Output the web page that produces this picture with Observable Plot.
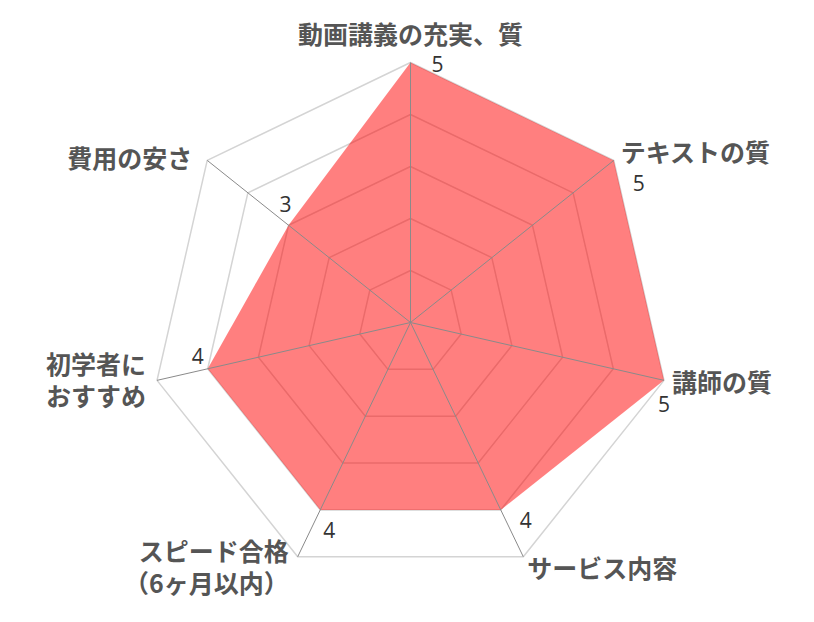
<!DOCTYPE html>
<html>
<head>
<meta charset="utf-8">
<script src="https://cdn.jsdelivr.net/npm/d3@7"></script>
<script src="https://cdn.jsdelivr.net/npm/@observablehq/plot@0.6"></script>
<style>
  html, body { margin: 0; padding: 0; background: #fff; }
  #chart svg { display: block; }
</style>
</head>
<body>
<div id="chart"></div>
<script>
// ---- data ----
const axisLabels = ["動画講義の充実、質", "テキストの質", "講師の質", "サービス内容", "スピード合格\n（6ヶ月以内）", "初学者に\nおすすめ", "費用の安さ"];
const scores = [5, 5, 5, 4, 4, 4, 3];
const gridLevels = [1, 2, 3, 4, 5];
const maxScore = 5;

// ---- styling / layout (pixels) ----
const W = 814, H = 622, CX = 410, CY = 322, R = 260;
const labelAnchor = ["middle", "start", "start", "start", "end", "end", "end"];
const labelOffset = [[0, -29], [7, -9], [8, 1], [4, 11], [-9, 10], [-11, -1], [-15, -3]];
const valueOffset = [[27, 3], [25, 24], [0, 25], [25, 11], [9, 21], [-10, -12], [-3, -20]];

const n = axisLabels.length;
const ang = i => i * 2 * Math.PI / n;
const pt = (i, s) => ({ x: (s / maxScore) * Math.sin(ang(i)), y: (s / maxScore) * Math.cos(ang(i)) });

const rings = gridLevels.flatMap(l => axisLabels.map((_, i) => ({ ...pt(i, l), level: l })));
const outer = axisLabels.map((label, i) => ({ ...pt(i, maxScore), label, i }));
const shape = scores.map((s, i) => ({ ...pt(i, s), s, i }));

const labelData = outer.map(d => ({
  ...d,
  lx: d.x + labelOffset[d.i][0] / R,
  ly: d.y - labelOffset[d.i][1] / R,
  anchor: labelAnchor[d.i]
}));
const valueData = shape.map(d => ({
  ...d,
  vx: d.x + valueOffset[d.i][0] / R,
  vy: d.y - valueOffset[d.i][1] / R
}));

const labelFont = { fontFamily: "'Noto Sans CJK JP', 'Noto Sans', sans-serif", fontSize: 25, fontWeight: 700, fill: "#555" };
const labelMark = a => Plot.text(labelData.filter(d => d.anchor === a), {
  x: "lx", y: "ly", text: "label", textAnchor: a, lineAnchor: "middle", lineHeight: 1.3, ...labelFont
});

const chart = Plot.plot({
  width: W, height: H, margin: 0,
  x: { domain: [-CX / R, (W - CX) / R], range: [0, W], axis: null },
  y: { domain: [-(H - CY) / R, CY / R], range: [H, 0], axis: null },
  marks: [
    Plot.line(rings, { x: "x", y: "y", z: "level", curve: "linear-closed", stroke: "#d4d4d4", strokeWidth: 1.5 }),
    Plot.line(shape, { x: "x", y: "y", curve: "linear-closed", fill: "#ff0000", fillOpacity: 0.5, stroke: "none" }),
    Plot.link(outer, { x1: d => 0, y1: d => 0, x2: "x", y2: "y", stroke: "#8a8a8a", strokeWidth: 1 }),
    Plot.text(valueData, { x: "vx", y: "vy", text: d => String(d.s), fontFamily: "'Open Sans', 'Noto Sans', sans-serif", fontSize: 21, fill: "#333" }),
    labelMark("middle"),
    labelMark("start"),
    labelMark("end")
  ]
});
document.getElementById("chart").appendChild(chart);
</script>
</body>
</html>
